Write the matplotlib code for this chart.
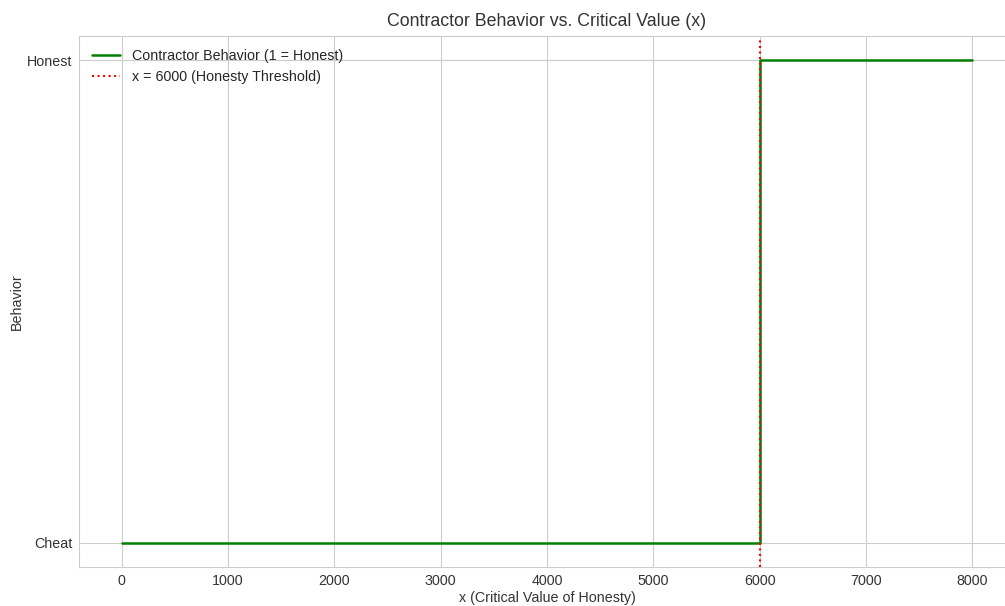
import numpy as np
import matplotlib
matplotlib.use('Agg')
from matplotlib import pyplot as plt
import seaborn as sns

# data
x_vals = [0, 6000, 8000]
behavior = [0, 1, 1]
threshold = 6000
y_ticks = [0, 1]
y_labels = ['Cheat', 'Honest']
x_ticks = [0, 1000, 2000, 3000, 4000, 5000, 6000, 7000, 8000]

sns.set_style('whitegrid')
plt.rcParams['font.family'] = ['Liberation Sans', 'DejaVu Sans']

fig = plt.figure(figsize=(10.05, 6.06), dpi=100)
ax = fig.add_axes([79/1005, 1 - 567/606, (1015 - 79)/1005, (567 - 36)/606])

ax.plot(x_vals, behavior, drawstyle='steps-post', color='green', linewidth=1.8,
        label='Contractor Behavior (1 = Honest)')
ax.axvline(threshold, color='red', linestyle=':', linewidth=1.5,
           label='x = 6000 (Honesty Threshold)')

ax.set_xlim(-400, 8400)
ax.set_ylim(-0.05, 1.05)
ax.set_xticks(x_ticks)
ax.set_yticks(y_ticks)
ax.set_yticklabels(y_labels)
ax.tick_params(labelsize=10.3, colors='#333333', pad=1.5)

ax.set_title('Contractor Behavior vs. Critical Value (x)', fontsize=12.8, color='#333333', pad=7)
ax.set_xlabel('x (Critical Value of Honesty)', fontsize=10.3, color='#333333', labelpad=2)
ax.set_ylabel('Behavior', fontsize=10.3, color='#333333', labelpad=2)
ax.legend(loc='upper left', fontsize=10.3, frameon=False)

plt.savefig('out.png')
